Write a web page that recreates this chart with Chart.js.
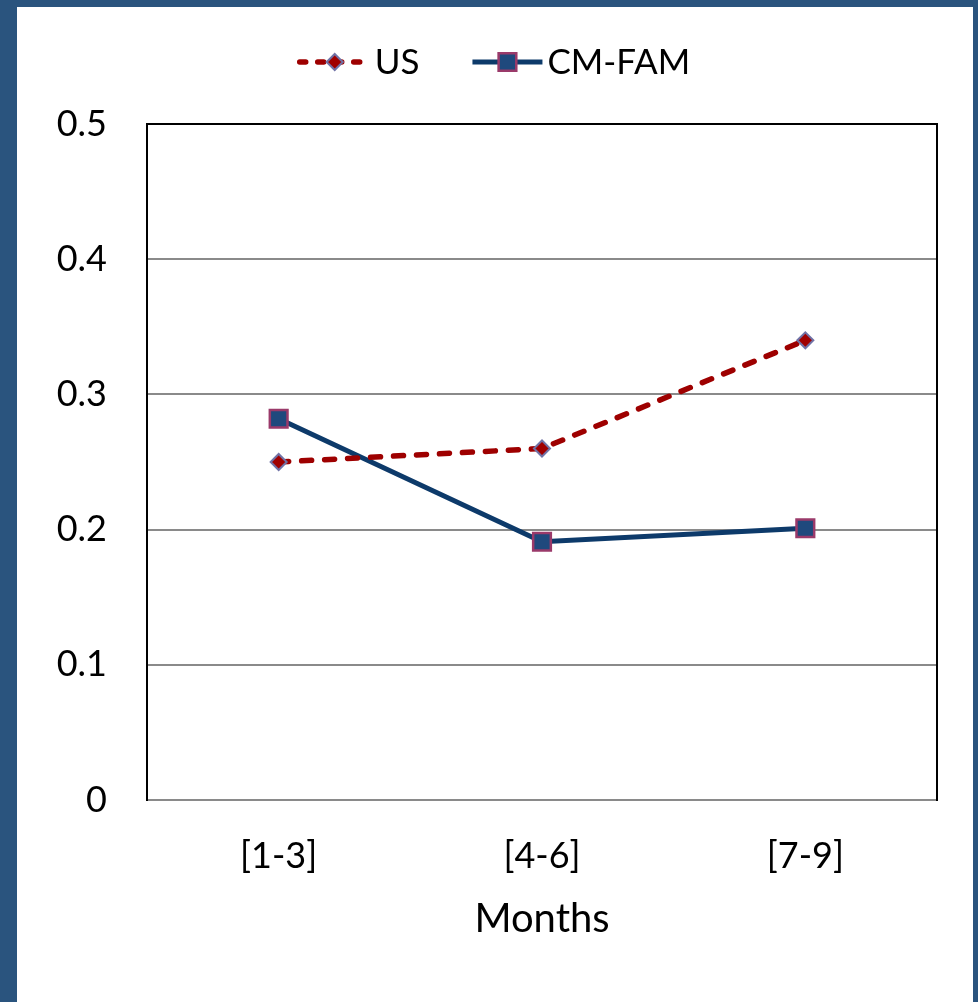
<!DOCTYPE html>
<html>
<head>
<meta charset="utf-8">
<script src="https://cdn.jsdelivr.net/npm/chart.js@4/dist/chart.umd.min.js"></script>
<style>
  html, body { margin: 0; padding: 0; background: #2a547e; width: 978px; height: 1002px; overflow: hidden; }
  #frame { position: absolute; left: 17px; top: 7px; width: 956px; height: 995px; background: #ffffff; }
  canvas { display: block; }
</style>
</head>
<body>
<div id="frame"><canvas id="chart" width="956" height="995"></canvas></div>
<script>
// Quarterly groups along the x axis
const categories = ['[1-3]', '[4-6]', '[7-9]'];
// Series values
const usValues = [0.25, 0.26, 0.34];
const cmFamValues = [0.282, 0.191, 0.201];
// Value axis range and step
const yMin = 0;
const yMax = 0.5;
const yStep = 0.1;

const FONT = 'Lato, "Open Sans", sans-serif';
const GRID_GRAY = '#8a8a8a';

// Legend drawn as a line sample with the series marker in its middle
const lineLegend = {
  id: 'lineLegend',
  afterDraw(chart, args, opts) {
    const ctx = chart.ctx;
    ctx.save();
    ctx.font = opts.fontSize + 'px ' + FONT;
    const items = chart.data.datasets.map(ds => ({
      ds,
      w: opts.lineLen + opts.textGap + ctx.measureText(ds.label).width
    }));
    const total = items.reduce((s, it) => s + it.w, 0) + opts.itemGap * (items.length - 1);
    let x = chart.width / 2 - total / 2;
    const y = opts.y;
    items.forEach(({ ds, w }) => {
      ctx.beginPath();
      ctx.strokeStyle = ds.borderColor;
      ctx.lineWidth = ds.borderWidth;
      ctx.lineCap = ds.borderCapStyle || 'butt';
      ctx.setLineDash(ds.legendDash || []);
      ctx.moveTo(x, y);
      ctx.lineTo(x + opts.lineLen, y);
      ctx.stroke();
      ctx.setLineDash([]);
      ctx.lineCap = 'butt';
      ctx.fillStyle = ds.pointBackgroundColor;
      ctx.strokeStyle = ds.pointBorderColor;
      ctx.lineWidth = ds.pointBorderWidth;
      Chart.helpers.drawPoint(ctx, {
        pointStyle: ds.pointStyle,
        radius: ds.pointRadius,
        borderWidth: ds.pointBorderWidth,
        rotation: 0
      }, x + opts.lineLen / 2, y);
      ctx.fillStyle = '#000000';
      ctx.textBaseline = 'middle';
      ctx.textAlign = 'left';
      ctx.fillText(ds.label, x + opts.lineLen + opts.textGap, y + 1);
      x += w + opts.itemGap;
    });
    ctx.restore();
  }
};

new Chart(document.getElementById('chart'), {
  type: 'line',
  data: {
    labels: categories,
    datasets: [
      {
        label: 'US',
        data: usValues,
        borderColor: '#9e0000',
        borderWidth: 5.5,
        borderDash: [10, 13],
        legendDash: [6, 12],
        borderCapStyle: 'round',
        pointStyle: 'rectRot',
        pointRadius: 8,
        pointHoverRadius: 8,
        pointBackgroundColor: '#a00000',
        pointBorderColor: '#7072a6',
        pointBorderWidth: 2,
        tension: 0,
        fill: false
      },
      {
        label: 'CM-FAM',
        data: cmFamValues,
        borderColor: '#0d3a6a',
        borderWidth: 5,
        borderCapStyle: 'butt',
        pointStyle: 'rect',
        pointRadius: 12.5,
        pointHoverRadius: 12.5,
        pointBackgroundColor: '#1f497d',
        pointBorderColor: '#9a3a6a',
        pointBorderWidth: 2.5,
        tension: 0,
        fill: false
      }
    ]
  },
  options: {
    responsive: false,
    animation: false,
    layout: { padding: { top: 117, right: 36, bottom: 0, left: 0 } },
    plugins: {
      legend: { display: false },
      tooltip: { enabled: false },
      lineLegend: { fontSize: 35, lineLen: 70, textGap: 5, itemGap: 53, y: 55 }
    },
    scales: {
      x: {
        type: 'category',
        offset: true,
        grid: { display: false, drawTicks: false },
        border: { display: true, color: GRID_GRAY, width: 2 },
        ticks: { color: '#000000', font: { family: FONT, size: 36 }, padding: 35, maxRotation: 0 },
        title: {
          display: true,
          text: 'Months',
          color: '#000000',
          font: { family: FONT, size: 40 },
          padding: { top: 0, bottom: 59 }
        },
        afterFit(scale) { scale.height = 202; }
      },
      y: {
        min: yMin,
        max: yMax,
        ticks: { stepSize: yStep, color: '#000000', font: { family: FONT, size: 36 }, padding: 40 },
        grid: {
          drawTicks: false,
          lineWidth: 2,
          color: c => (c.tick && c.tick.value === yMax) ? '#000000' : GRID_GRAY
        },
        border: { display: true, color: '#000000', width: 2 },
        afterFit(scale) { scale.width = 130; }
      },
      yRight: {
        position: 'right',
        min: yMin,
        max: yMax,
        ticks: { display: false },
        grid: { display: false, drawTicks: false },
        border: { display: true, color: '#000000', width: 2 },
        afterFit(scale) { scale.width = 0; }
      }
    }
  },
  plugins: [lineLegend]
});
</script>
</body>
</html>
